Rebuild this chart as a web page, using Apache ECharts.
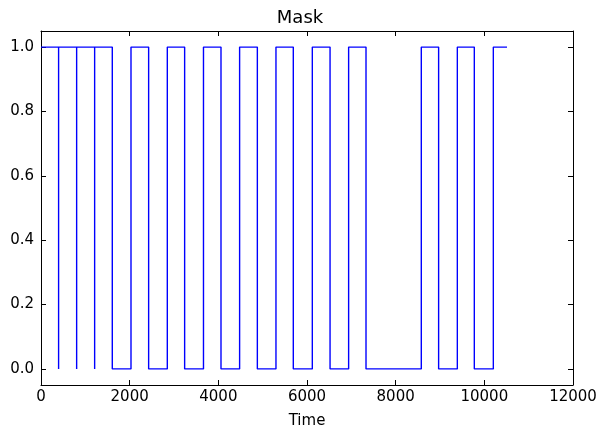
<!DOCTYPE html>
<html><head><meta charset="utf-8">
<script src="https://cdn.jsdelivr.net/npm/echarts@6/dist/echarts.min.js"></script>
<style>html,body{margin:0;padding:0;background:#fff}#c{width:600px;height:431px}</style>
</head><body><div id="c"></div>
<script>
// Mask signal: times and values (step transitions as duplicated times)
var times  = [0, 397, 397, 397, 804, 804, 804, 1210, 1210, 1210, 1608, 1608, 2030, 2030, 2428, 2428, 2849, 2849, 3240, 3240, 3665, 3665, 4060, 4060, 4480, 4480, 4880, 4880, 5300, 5300, 5691, 5691, 6120, 6120, 6520, 6520, 6939, 6939, 7331, 7331, 8578, 8578, 8969, 8969, 9391, 9391, 9774, 9774, 10203, 10203, 10512];
var values = [1, 1, 0, 1, 1, 0, 1, 1, 0, 1, 1, 0, 0, 1, 1, 0, 0, 1, 1, 0, 0, 1, 1, 0, 0, 1, 1, 0, 0, 1, 1, 0, 0, 1, 1, 0, 0, 1, 1, 0, 0, 1, 1, 0, 0, 1, 1, 0, 0, 1, 1];
var xTicks = [0, 2000, 4000, 6000, 8000, 10000, 12000];
var yTicks = [0, 0.2, 0.4, 0.6, 0.8, 1.0];
var title = 'Mask';
var xName = 'Time';

var data = times.map(function (t, i) { return [t, values[i]]; });
var font = 'DejaVu Sans';
var chart = echarts.init(document.getElementById('c'), null, {renderer: 'canvas'});
var lineStyle = {color: '#000', width: 1};
chart.setOption({
  animation: false,
  backgroundColor: '#fff',
  title: {text: title, left: 'center', top: 4, textStyle: {fontFamily: font, fontSize: 18, fontWeight: 'normal', color: '#000'}},
  grid: {left: 41, right: 27, top: 31, bottom: 46, containLabel: false, outerBoundsMode: 'none'},
  xAxis: [{
    type: 'value', min: 0, max: 12000, interval: 2000, position: 'bottom',
    name: xName, nameLocation: 'middle', nameGap: 29,
    nameTextStyle: {fontFamily: font, fontSize: 15, color: '#000'},
    axisLine: {show: true, onZero: false, lineStyle: lineStyle},
    axisTick: {show: true, inside: true, length: 5, lineStyle: lineStyle, customValues: xTicks},
    axisLabel: {fontFamily: font, fontSize: 15, color: '#000', margin: 5, customValues: xTicks,
      formatter: function (v) { return String(v); }},
    splitLine: {show: false}
  }, {
    type: 'value', min: 0, max: 12000, interval: 2000, position: 'top',
    axisLine: {show: true, onZero: false, lineStyle: lineStyle},
    axisTick: {show: true, inside: true, length: 5, lineStyle: lineStyle, customValues: xTicks},
    axisLabel: {show: false}, splitLine: {show: false}
  }],
  yAxis: [{
    type: 'value', min: -0.05, max: 1.05, position: 'left',
    axisLine: {show: true, onZero: false, lineStyle: lineStyle},
    axisTick: {show: true, inside: true, length: 5, lineStyle: lineStyle, customValues: yTicks},
    axisLabel: {fontFamily: font, fontSize: 15, color: '#000', margin: 7, customValues: yTicks,
      formatter: function (v) { return v.toFixed(1); }},
    splitLine: {show: false}
  }, {
    type: 'value', min: -0.05, max: 1.05, position: 'right',
    axisLine: {show: true, onZero: false, lineStyle: lineStyle},
    axisTick: {show: true, inside: true, length: 5, lineStyle: lineStyle, customValues: yTicks},
    axisLabel: {show: false}, splitLine: {show: false}
  }],
  series: [{
    type: 'line', data: data, xAxisIndex: 0, yAxisIndex: 0,
    showSymbol: false, symbol: 'none',
    lineStyle: {color: '#0000ff', width: 1.4}
  }]
});
</script></body></html>
